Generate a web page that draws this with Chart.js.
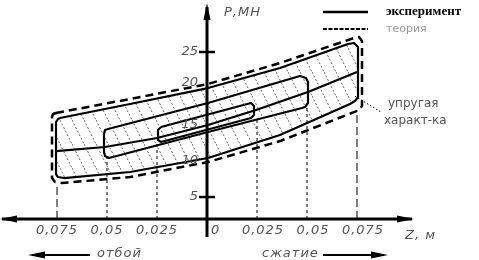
<!DOCTYPE html>
<html>
<head>
<meta charset="utf-8">
<script src="https://cdn.jsdelivr.net/npm/chart.js"></script>
<style>
body{margin:0;background:#fff}
#wrap{width:479px;height:260px;position:relative}
</style>
</head>
<body>
<div id="wrap"><canvas id="myChart"></canvas></div>
<script>
// ход Z, м  (отбой < 0 < сжатие), усилие P, МН
var zTicks = [-0.075, -0.05, -0.025, 0, 0.025, 0.05, 0.075];
var pTicks = [5, 10, 15, 20, 25];
var pMarks = [5, 25]; // видимые засечки

// упругая характеристика
var backboneZ = [-0.0755, -0.051, -0.025, 0.0005, 0.0245, 0.0505, 0.075];
var backboneP = [11.34, 11.90, 13.14, 14.93, 17.00, 19.48, 22.24];

// большая петля, эксперимент
var outerZ = [-0.0735, -0.0385, 0.0005, 0.0365, 0.0705, 0.0735, 0.0755, 0.0755, 0.074, 0.0715, 0.0365, 0.0005, -0.0385, -0.0715, -0.0745, -0.0755, -0.0755, -0.0745, -0.0735];
var outerP = [15.90, 17.83, 20.03, 22.79, 26.10, 26.24, 25.69, 18.79, 18.24, 17.83, 13.55, 10.38, 8.45, 7.62, 7.76, 8.17, 15.34, 15.76, 15.90];

// большая петля, теория
var theoryZ = [-0.0755, -0.0385, 0.0005, 0.0365, 0.0735, 0.076, 0.0775, 0.0775, 0.076, 0.0735, 0.0365, 0.0005, -0.0385, -0.0725, -0.076, -0.0775, -0.0775, -0.077, -0.0755];
var theoryP = [16.59, 18.52, 20.59, 23.48, 26.93, 27.07, 26.52, 17.55, 17.00, 16.72, 12.72, 9.83, 7.76, 6.93, 7.07, 7.62, 16.03, 16.45, 16.59];

// средняя петля
var midZ = [-0.0495, 0.0005, 0.0465, 0.0495, 0.0505, 0.0505, 0.049, 0.0475, 0.0005, -0.049, -0.051, -0.0515, -0.0515, -0.051, -0.0495];
var midP = [14.38, 17.97, 21.69, 21.41, 20.86, 17.97, 17.41, 17.28, 13.97, 10.38, 10.66, 11.21, 13.69, 14.24, 14.38];

// малая петля
var smallZ = [-0.023, 0.022, 0.0235, 0.0235, 0.022, -0.023, -0.0245, -0.0245, -0.023];
var smallP = [14.66, 17.97, 17.55, 16.31, 15.90, 12.59, 12.86, 14.24, 14.66];

// вертикали от оси до петель
var dropZ = [-0.075, -0.05, -0.025, 0.025, 0.05, 0.075];
var dropP = [6.93, 10.40, 12.60, 15.90, 17.30, 17.00];

var pMin = 1.97, pMax = 31.76;

function pts(zs, ps) {
  return zs.map(function (z, i) { return {x: z, y: ps[i]}; });
}

// штриховка
var hc = document.createElement('canvas');
hc.width = 12; hc.height = 24;
var hx = hc.getContext('2d');
hx.strokeStyle = '#444';
hx.lineWidth = 0.8;
hx.setLineDash([2, 2]);
hx.beginPath(); hx.moveTo(0, 0); hx.lineTo(12, 24); hx.stroke();
var hatch = hx.createPattern(hc, 'repeat');

var datasets = [];
dropZ.forEach(function (z, i) {
  var edge = (i == 0 || i == dropZ.length - 1);
  datasets.push({
    data: [{x: z, y: pMin}, {x: z, y: dropP[i]}],
    borderColor: '#000', borderWidth: 1,
    borderDash: edge ? [8, 4] : [3, 3],
    pointRadius: 0, fill: false
  });
});
datasets.push({data: pts(outerZ, outerP), borderColor: '#000', borderWidth: 2.2, backgroundColor: hatch, fill: 'shape', pointRadius: 0});
datasets.push({data: pts(theoryZ, theoryP), borderColor: '#000', borderWidth: 2.5, borderDash: [8, 5], pointRadius: 0, fill: false});
datasets.push({data: pts(midZ, midP), borderColor: '#000', borderWidth: 2.2, pointRadius: 0, fill: false});
datasets.push({data: pts(smallZ, smallP), borderColor: '#000', borderWidth: 2.2, pointRadius: 0, fill: false});
datasets.push({data: pts(backboneZ, backboneP), borderColor: '#000', borderWidth: 2.2, pointRadius: 0, fill: false});

function arrow(ctx, x, y, dx, dy) {
  // dx,dy - направление острия
  var len = 17, w = 3.5;
  ctx.beginPath();
  ctx.moveTo(x, y);
  ctx.lineTo(x - dx * len - dy * w, y - dy * len + dx * w);
  ctx.lineTo(x - dx * len + dy * w, y - dy * len - dx * w);
  ctx.closePath();
  ctx.fill();
}

var axesPlugin = {
  id: 'axes',
  afterDatasetsDraw: function (chart) {
    var ctx = chart.ctx;
    var xs = chart.scales.x, ys = chart.scales.y;
    var x0 = xs.getPixelForValue(0);
    var yb = ys.getPixelForValue(pMin);
    var yt = ys.getPixelForValue(pMax);
    ctx.save();
    ctx.fillStyle = '#000';
    ctx.strokeStyle = '#000';
    // ось Z
    ctx.lineWidth = 3;
    ctx.beginPath(); ctx.moveTo(2, yb); ctx.lineTo(xs.right - 2, yb); ctx.stroke();
    arrow(ctx, 0, yb, -1, 0);
    arrow(ctx, xs.right, yb, 1, 0);
    // ось P
    ctx.beginPath(); ctx.moveTo(x0, yt + 4); ctx.lineTo(x0, yb + 18); ctx.stroke();
    arrow(ctx, x0, yt, 0, -1);
    // засечки P
    ctx.lineWidth = 2.5;
    pMarks.forEach(function (p) {
      var y = ys.getPixelForValue(p);
      ctx.beginPath(); ctx.moveTo(x0 - 8, y); ctx.lineTo(x0 + 8, y); ctx.stroke();
    });

    ctx.fillStyle = '#555';
    ctx.font = "italic 13px 'DejaVu Sans'";
    ctx.textBaseline = 'middle';
    ctx.textAlign = 'right';
    pTicks.forEach(function (p) {
      ctx.fillText(String(p), x0 - 9, ys.getPixelForValue(p) - (p == 20 ? 6 : 0));
    });
    ctx.letterSpacing = '1px';
    zTicks.forEach(function (z) {
      var x = xs.getPixelForValue(z);
      if (z == 0) {
        ctx.textAlign = 'left';
        ctx.fillText('0', x + 4, yb + 12);
      } else {
        ctx.textAlign = 'center';
        ctx.fillText(String(Math.abs(z)).replace('.', ','), x + (z > 0 ? 6 : 0), yb + 12);
      }
    });
    ctx.textAlign = 'left';
    ctx.fillText('Z, м', 405, yb + 17);
    ctx.fillText('Р,МН', x0 + 17, 13);
    ctx.fillText('отбой', 97, 254);
    ctx.fillText('сжатие', 262, 254);
    ctx.letterSpacing = '0px';

    // стрелки отбой / сжатие
    ctx.fillStyle = '#000';
    ctx.lineWidth = 2;
    ctx.beginPath(); ctx.moveTo(32, 255); ctx.lineTo(90, 255); ctx.stroke();
    arrow(ctx, 28, 255, -1, 0);
    ctx.beginPath(); ctx.moveTo(323, 255); ctx.lineTo(384, 255); ctx.stroke();
    arrow(ctx, 388, 255, 1, 0);

    // легенда
    ctx.lineWidth = 2.5;
    ctx.beginPath(); ctx.moveTo(323, 12); ctx.lineTo(368, 12); ctx.stroke();
    ctx.lineWidth = 2;
    ctx.setLineDash([4, 1.5]);
    ctx.beginPath(); ctx.moveTo(323, 29); ctx.lineTo(368, 29); ctx.stroke();
    ctx.setLineDash([]);
    ctx.font = "bold 13px 'Liberation Serif'";
    ctx.fillStyle = '#000';
    ctx.fillText('эксперимент', 386, 12);
    ctx.font = "11px 'DejaVu Sans'";
    ctx.fillStyle = '#999';
    ctx.fillText('теория', 386, 29);

    // выноска
    ctx.strokeStyle = '#000';
    ctx.lineWidth = 1;
    ctx.setLineDash([1.5, 2]);
    var lx = xs.getPixelForValue(0.074), ly = ys.getPixelForValue(18.9);
    ctx.beginPath(); ctx.moveTo(lx, ly); ctx.lineTo(381, 112); ctx.stroke();
    ctx.setLineDash([]);
    ctx.fillStyle = '#555';
    ctx.font = "12px 'DejaVu Sans'";
    ctx.fillText('упругая', 388, 104);
    ctx.fillText('характ-ка', 384, 121);
    ctx.restore();
  }
};

new Chart('myChart', {
  type: 'line',
  data: {datasets: datasets},
  options: {
    responsive: true,
    maintainAspectRatio: false,
    animation: false,
    layout: {padding: {left: 0, right: 65, top: 3, bottom: 41}},
    elements: {line: {tension: 0, borderCapStyle: 'butt', borderJoinStyle: 'round'}},
    scales: {
      x: {type: 'linear', min: -0.1035, max: 0.1035, display: false},
      y: {type: 'linear', min: pMin, max: pMax, display: false}
    },
    plugins: {legend: {display: false}, tooltip: {enabled: false}}
  },
  plugins: [axesPlugin]
});
</script>
</body>
</html>
